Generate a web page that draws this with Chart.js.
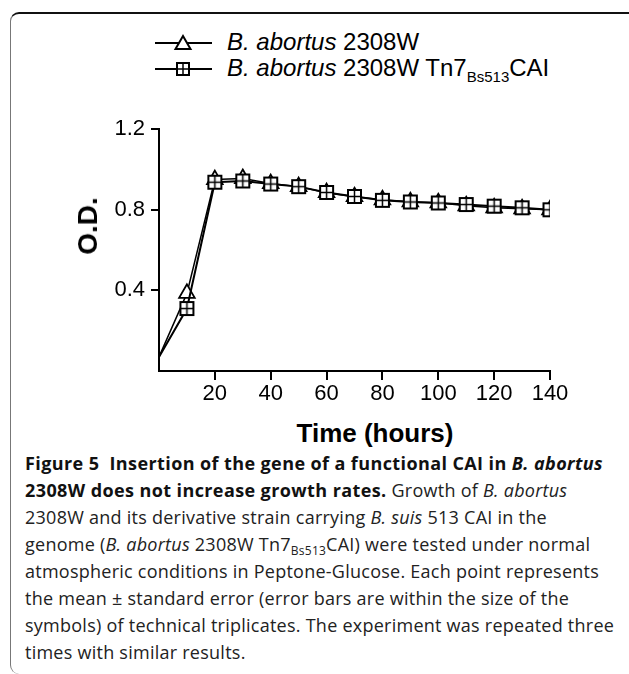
<!DOCTYPE html>
<html>
<head>
<meta charset="utf-8">
<script src="https://cdn.jsdelivr.net/npm/chart.js@4.4.1/dist/chart.umd.min.js"></script>
<style>
  html, body { margin: 0; padding: 0; background: #fff; }
  body { width: 629px; height: 674px; position: relative; overflow: hidden; }
  .frame {
    position: absolute; left: 10px; top: 12px; width: 640px; height: 660px;
    border-top: 2px solid #111; border-left: 1.5px solid #777;
    border-top-left-radius: 9px; border-bottom-left-radius: 9px;
  }
  .legend { position: absolute; left: 150px; top: 29px; font-family: "Liberation Sans", Arial, sans-serif; font-size: 24px; color: #000; }
  .legend .row { position: relative; height: 26px; line-height: 26px; white-space: nowrap; }
  .legend svg { position: absolute; left: 0; top: 0; }
  .legend span.t { position: absolute; left: 77px; top: 0; }
  .legend sub { font-size: 15px; vertical-align: -6px; line-height: 0; }
  .axis-title { position: absolute; font-family: "Liberation Sans", Arial, sans-serif; font-weight: bold; color: #000; white-space: nowrap; }
  #yTitle { left: 88px; top: 226px; font-size: 28px; transform: translate(-50%, -50%) rotate(-90deg); }
  #xTitle { left: 375px; top: 433px; font-size: 26px; transform: translate(-50%, -50%); }
  #wrap { position: absolute; left: 0; top: 110px; width: 600px; height: 305px; }
  .caption {
    position: absolute; left: 25px; top: 450px; width: 610px;
    font-family: "Open Sans", sans-serif; font-size: 18px; line-height: 27px; color: #222;
    letter-spacing: 0.25px; white-space: nowrap;
  }
  .caption b { font-weight: 700; color: #111; letter-spacing: 0.4px; }
  .caption sub { font-size: 12px; vertical-align: -4px; line-height: 0; }
</style>
</head>
<body>
<div class="frame"></div>
<div class="legend">
  <div class="row">
    <svg width="64" height="26"><line x1="5" y1="14" x2="62" y2="14" stroke="#000" stroke-width="2"/><polygon points="33,7 40.5,20 25.5,20" fill="#fff" stroke="#000" stroke-width="2"/></svg>
    <span class="t"><i>B. abortus</i> 2308W</span>
  </div>
  <div class="row">
    <svg width="64" height="26"><line x1="5" y1="14" x2="62" y2="14" stroke="#000" stroke-width="2"/><rect x="27" y="8" width="12" height="12" fill="#fff" stroke="#000" stroke-width="2"/><line x1="33" y1="8" x2="33" y2="20" stroke="#000" stroke-width="1.5"/><line x1="27" y1="14" x2="39" y2="14" stroke="#000" stroke-width="1.5"/></svg>
    <span class="t"><i>B. abortus</i> 2308W Tn7<sub>Bs513</sub>CAI</span>
  </div>
</div>
<div id="wrap"><canvas id="growthChart"></canvas></div>
<div class="axis-title" id="yTitle">O.D.</div>
<div class="axis-title" id="xTitle">Time (hours)</div>
<div class="caption">
  <b>Figure 5&nbsp; Insertion of the gene of a functional CAI in <i>B. abortus</i></b><br>
  <b>2308W does not increase growth rates.</b> Growth of <i>B. abortus</i><br>
  2308W and its derivative strain carrying <i>B. suis</i> 513 CAI in the<br>
  genome (<i>B. abortus</i> 2308W Tn7<sub>Bs513</sub>CAI) were tested under normal<br>
  atmospheric conditions in Peptone-Glucose. Each point represents<br>
  the mean &plusmn; standard error (error bars are within the size of the<br>
  symbols) of technical triplicates. The experiment was repeated three<br>
  times with similar results.
</div>
<script>
// =============================================
// DATA
// =============================================
const timeHours = [0, 10, 20, 30, 40, 50, 60, 70, 80, 90, 100, 110, 120, 130, 140];
const odWildType = [0.07, 0.385, 0.95, 0.955, 0.93, 0.915, 0.885, 0.865, 0.85, 0.84, 0.835, 0.82, 0.81, 0.805, 0.80];
const odTn7CAI = [0.07, 0.31, 0.937, 0.943, 0.928, 0.915, 0.886, 0.866, 0.847, 0.839, 0.834, 0.826, 0.818, 0.81, 0.80];
const xTicks = [20, 40, 60, 80, 100, 120, 140];
const yTicks = [0.4, 0.8, 1.2];

// square with a plus inside, used as point style for the Tn7 strain
function makeSquareCross() {
    const c = document.createElement('canvas');
    c.width = 17; c.height = 17;
    const g = c.getContext('2d');
    g.fillStyle = '#fff';
    g.fillRect(2, 2, 13, 13);
    g.strokeStyle = '#000';
    g.lineWidth = 2;
    g.strokeRect(2, 2, 13, 13);
    g.lineWidth = 1.5;
    g.beginPath();
    g.moveTo(8.5, 2); g.lineTo(8.5, 15);
    g.moveTo(2, 8.5); g.lineTo(15, 8.5);
    g.stroke();
    return c;
}

const toPoints = (vals) => vals.map((v, i) => ({ x: timeHours[i], y: v }));
// no marker and no tick at t = 0
const noFirst = (r) => (c) => c.dataIndex === 0 ? 0 : r;
const tickColor = (ctx) => (ctx.tick && ctx.tick.value === 0) ? 'rgba(0,0,0,0)' : '#000';

const ctx = document.getElementById('growthChart').getContext('2d');
const chart = new Chart(ctx, {
    type: 'line',
    data: {
        datasets: [{
            label: 'B. abortus 2308W Tn7Bs513CAI',
            data: toPoints(odTn7CAI),
            borderColor: '#000',
            borderWidth: 2,
            pointStyle: makeSquareCross(),
            pointRadius: noFirst(8)
        }, {
            label: 'B. abortus 2308W',
            data: toPoints(odWildType),
            borderColor: '#000',
            borderWidth: 1.5,
            pointStyle: 'triangle',
            pointRadius: noFirst(9),
            pointBackgroundColor: '#fff',
            pointBorderColor: '#000',
            pointBorderWidth: 1.8
        }]
    },
    options: {
        responsive: true,
        maintainAspectRatio: false,
        animation: false,
        layout: { padding: { top: 15, right: 50, left: 0, bottom: 0 } },
        plugins: { legend: { display: false }, tooltip: { enabled: false } },
        scales: {
            x: {
                type: 'linear',
                min: 0,
                max: 140,
                afterBuildTicks: (s) => { s.ticks = xTicks.map(v => ({ value: v })); },
                ticks: { color: '#000', font: { family: 'Liberation Sans', size: 22 }, padding: 1, maxRotation: 0 },
                grid: { drawOnChartArea: false, tickLength: 9, lineWidth: 2, color: tickColor },
                border: { color: '#000', width: 2 },
                afterFit: (s) => { s.height = 44; }
            },
            y: {
                min: 0,
                max: 1.2,
                afterBuildTicks: (s) => { s.ticks = yTicks.map(v => ({ value: v })); },
                ticks: { color: '#000', font: { family: 'Liberation Sans', size: 22 }, padding: 6, callback: (v) => v.toFixed(1) },
                grid: { drawOnChartArea: false, tickLength: 8, lineWidth: 2, color: tickColor },
                border: { color: '#000', width: 2 },
                afterFit: (s) => { s.width = 159; }
            }
        }
    }
});
</script>
</body>
</html>
